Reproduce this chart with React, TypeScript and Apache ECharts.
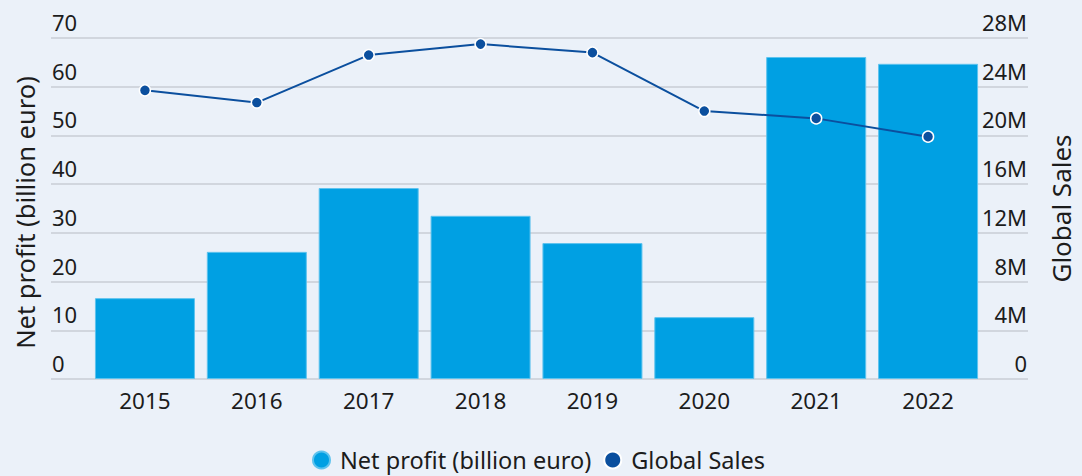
import React, { useEffect, useRef } from "react";
import * as echarts from "echarts";

const years = ["2015", "2016", "2017", "2018", "2019", "2020", "2021", "2022"];
const netProfit = [16.6, 26.1, 39.2, 33.5, 27.9, 12.7, 66.1, 64.7];
const globalSales = [23.7e6, 22.7e6, 26.6e6, 27.5e6, 26.8e6, 22.0e6, 21.4e6, 19.9e6];
const leftTicks = { min: 0, max: 70, interval: 10 };
const rightTicks = { min: 0, max: 28e6, interval: 4e6 };

const FONT = "Noto Sans";
const TEXT = "#1c1c1c";
const BAR = "#00A0E3";
const LINE = "#0B4F9E";
const BG = "#EBF1F9";

const fmtM = (v: number) => (v === 0 ? "0" : `${Math.round(v / 1e6)}M`);

export default function App() {
  const ref = useRef<HTMLDivElement>(null);
  useEffect(() => {
    if (!ref.current) return;
    const chart = echarts.init(ref.current, undefined, { renderer: "svg" });
    chart.setOption({
      animation: false,
      backgroundColor: BG,
      textStyle: { fontFamily: FONT, color: TEXT },
      legend: {
        top: 443,
        left: 307,
        icon: "circle",
        itemWidth: 17,
        itemHeight: 17,
        itemGap: 12,
        textStyle: {
          fontSize: 23.5,
          lineHeight: 24,
          color: TEXT,
          fontFamily: FONT,
          padding: [0, 0, 0, 5],
        },
        data: ["Net profit (billion euro)", "Global Sales"],
      },
      grid: [
        { left: 51, right: 45, top: 38, bottom: 97 },
        { left: 89, right: 98, top: 38, bottom: 97 },
      ],
      xAxis: [
        { gridIndex: 0, type: "category", data: years, show: false },
        {
          gridIndex: 1,
          type: "category",
          data: years,
          axisLine: { show: false },
          axisTick: { show: false },
          axisLabel: { fontSize: 22.5, color: TEXT, margin: 10, fontFamily: FONT },
        },
      ],
      yAxis: [
        {
          gridIndex: 0,
          type: "value",
          position: "left",
          ...leftTicks,
          name: "Net profit (billion euro)",
          nameLocation: "middle",
          nameGap: 13,
          nameTextStyle: { fontSize: 25.5, color: TEXT, fontFamily: FONT, padding: [0, 8, 0, 0] },
          axisLine: { show: false },
          axisTick: { show: false },
          splitLine: { show: true, lineStyle: { color: "#C9CDD5", width: 1.5 } },
          axisLabel: {
            inside: true,
            margin: 1,
            align: "left",
            verticalAlign: "bottom",
            padding: [0, 0, 5, 0],
            fontSize: 22,
            color: TEXT,
            fontFamily: FONT,
          },
        },
        {
          gridIndex: 0,
          type: "value",
          position: "right",
          ...rightTicks,
          name: "Global Sales",
          nameLocation: "middle",
          nameRotate: 90,
          nameGap: 20,
          nameTextStyle: { fontSize: 26, color: TEXT, fontFamily: FONT },
          axisLine: { show: false },
          axisTick: { show: false },
          splitLine: { show: false },
          axisLabel: {
            inside: true,
            margin: 1,
            align: "right",
            verticalAlign: "bottom",
            padding: [0, 0, 5, 0],
            fontSize: 22,
            color: TEXT,
            fontFamily: FONT,
            formatter: fmtM,
          },
        },
        { gridIndex: 1, type: "value", ...leftTicks, show: false, splitLine: { show: false } },
        { gridIndex: 1, type: "value", ...rightTicks, show: false, splitLine: { show: false } },
      ],
      series: [
        {
          name: "Net profit (billion euro)",
          type: "bar",
          xAxisIndex: 1,
          yAxisIndex: 2,
          data: netProfit,
          barWidth: 100,
          itemStyle: { color: BAR, borderColor: "#5EC3EE", borderWidth: 1 },
        },
        {
          name: "Global Sales",
          type: "line",
          xAxisIndex: 1,
          yAxisIndex: 3,
          data: globalSales,
          symbol: "circle",
          symbolSize: 11,
          showSymbol: true,
          lineStyle: { color: LINE, width: 2 },
          itemStyle: { color: LINE, borderColor: "#ffffff", borderWidth: 1.5 },
          z: 3,
        },
      ],
    });
    return () => chart.dispose();
  }, []);
  return (
    <div
      ref={ref}
      style={{ position: "fixed", left: 0, top: 0, width: 1082, height: 476 }}
    />
  );
}
